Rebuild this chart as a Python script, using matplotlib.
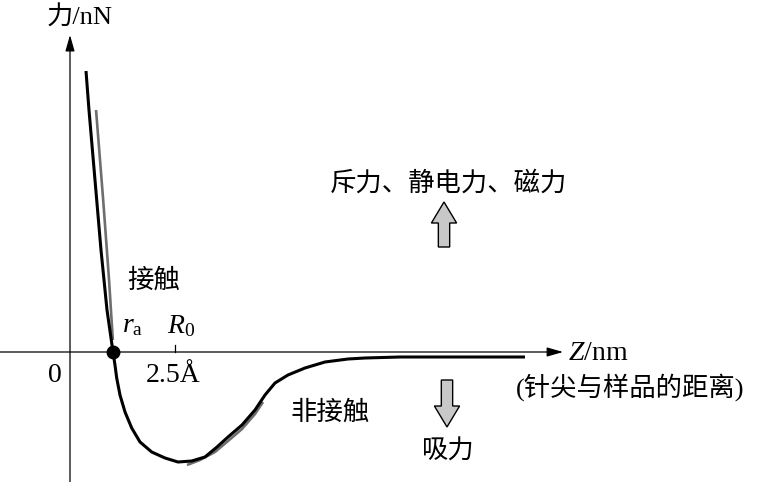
import numpy as np
import matplotlib.pyplot as plt
from matplotlib.patches import FancyArrow

plt.rcParams['font.family'] = ['Liberation Serif', 'Noto Sans CJK SC']
plt.rcParams['mathtext.fontset'] = 'custom'
plt.rcParams['mathtext.rm'] = 'Liberation Serif'
plt.rcParams['mathtext.it'] = 'Liberation Serif:italic'

# 针尖-样品距离 (Å) 与作用力 (任意单位)
z_black = [0.381, 0.452, 0.595, 0.738, 0.881, 1.024, 1.071, 1.112, 1.190,
           1.310, 1.469, 1.667, 1.945, 2.262, 2.571, 2.898, 3.214, 3.500,
           3.762, 4.095, 4.405, 4.643, 4.881, 5.190, 5.595, 6.071, 6.619,
           7.024, 7.857, 10.833]
f_black = [5.62, 4.84, 3.44, 2.04, 0.84, 0.00, -0.26, -0.52, -0.86,
           -1.20, -1.52, -1.80, -2.00, -2.12, -2.20, -2.18, -2.10, -1.90,
           -1.70, -1.46, -1.16, -0.86, -0.62, -0.46, -0.32, -0.20, -0.14,
           -0.12, -0.10, -0.10]

# 灰色曲线（只在两端可见）
z_gray_top = [0.62, 0.79, 0.93, 1.02]
f_gray_top = [4.84, 3.04, 1.44, 0.24]
z_gray_low = [2.786, 3.095, 3.452, 3.762, 4.095, 4.405, 4.595]
f_gray_low = [-2.26, -2.16, -2.00, -1.78, -1.54, -1.24, -1.00]

ra = 1.024
R0 = 2.5

fig = plt.figure(figsize=(7.69, 4.82), dpi=100)
ax = fig.add_axes([0, 0, 1, 1])
ax.set_xlim(-70 / 42, 699 / 42)
ax.set_ylim(-2.6, 7.04)
ax.axis('off')

# 坐标轴
arr = dict(arrowstyle='-|>,head_length=0.7,head_width=0.2', lw=0.9, color='k',
           mutation_scale=14, shrinkA=0, shrinkB=0)
ax.annotate('', xy=(0, 6.34), xytext=(0, -2.6), arrowprops=arr)
ax.annotate('', xy=(11.74, 0), xytext=(-1.667, 0), arrowprops=arr)
ax.plot([R0, R0], [0, 0.14], color='k', lw=0.9)

line_kw = dict(solid_capstyle='butt', solid_joinstyle='round')
ax.plot(z_gray_top, f_gray_top, color='#6e6e6e', lw=1.9, **line_kw)
ax.plot(z_gray_low, f_gray_low, color='#6e6e6e', lw=1.9, **line_kw)
ax.plot(z_black, f_black, color='k', lw=2.2, **line_kw)
ax.plot([ra], [0], 'o', color='k', ms=9)

# 箭头
for x0, y0, dy in [(8.905, 2.1, 0.9), (8.976, -0.56, -0.94)]:
    ax.add_patch(FancyArrow(x0, y0, 0, dy, width=0.27, head_width=0.6,
                            head_length=0.42, length_includes_head=True,
                            facecolor='#c8c8c8', edgecolor='k', lw=1.0))

fs = 19
fl = 20
ax.text(0.24, 6.68, '力/nN', fontsize=fs, ha='center', va='center')
ax.text(9.02, 3.38, '斥力、静电力、磁力', fontsize=fs, ha='center', va='center')
ax.text(1.98, 1.44, '接触', fontsize=fs, ha='center', va='center')
ax.text(1.5, 0.52, r'$r_{\mathrm{a}}$', fontsize=fl, ha='center', va='center')
ax.text(2.64, 0.52, r'$R_{0}$', fontsize=fl, ha='center', va='center')
ax.text(-0.36, -0.46, '0', fontsize=fl, ha='center', va='center')
ax.text(2.45, -0.46, '2.5Å', fontsize=fl, ha='center', va='center')
ax.text(11.86, -0.04, r'$Z$/nm', fontsize=fl, ha='left', va='center')
ax.text(13.33, -0.70, '(针尖与样品的距离)', fontsize=fs, ha='center', va='center')
ax.text(6.19, -1.20, '非接触', fontsize=fs, ha='center', va='center')
ax.text(9.0, -2.0, '吸力', fontsize=fs, ha='center', va='center')

fig.savefig('out.png', dpi=100)
